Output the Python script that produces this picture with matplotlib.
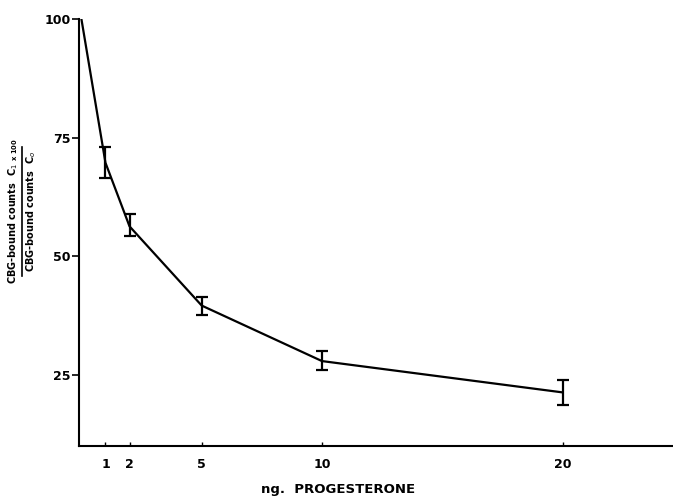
import matplotlib
matplotlib.use("Agg")
import matplotlib.pyplot as plt
from matplotlib.lines import Line2D

# Data
progesterone_ng = [0, 1, 2, 5, 10, 20]
bound_pct = [100, 69.7, 56.3, 39.6, 27.9, 21.3]
err_low = [0, 3.2, 2.1, 1.9, 1.9, 2.6]
err_high = [0, 3.3, 2.5, 1.8, 2.1, 2.6]
x_ticks = [1, 2, 5, 10, 20]
x_tick_labels = ["1", "2", "5", "10", "20"]
y_ticks = [25, 50, 75, 100]
y_tick_labels = ["25", "50", "75", "100"]

W, H = 673, 497
fig = plt.figure(figsize=(W / 100, H / 100), dpi=100)
ax = fig.add_axes([79 / W, 1 - 446 / H, (672 - 79) / W, (446 - 19) / H])

ax.plot(progesterone_ng, bound_pct, color="black", lw=1.6, solid_joinstyle="round")
ax.errorbar(progesterone_ng[1:], bound_pct[1:],
            yerr=[err_low[1:], err_high[1:]], fmt="none",
            ecolor="black", elinewidth=1.6, capsize=4, capthick=1.6)

ax.set_xlim(-0.1, 24.55)
ax.set_ylim(10, 100)
for s in ("top", "right"):
    ax.spines[s].set_visible(False)
for s in ("left", "bottom"):
    ax.spines[s].set_linewidth(1.5)

ax.set_xticks(x_ticks)
ax.set_xticklabels(x_tick_labels, fontsize=9, fontweight="bold")
ax.tick_params(axis="x", direction="in", length=3, width=1, pad=9)
ax.set_yticks(y_ticks)
ax.set_yticklabels(y_tick_labels, fontsize=9, fontweight="bold")
ax.tick_params(axis="y", direction="out", length=5, width=1.2, pad=1)

fig.text(338 / W, 1 - 490 / H, "ng.  PROGESTERONE", ha="center", va="center",
         fontsize=9.5, fontweight="bold")

# y label as a fraction
ycen = 1 - 211 / H
fig.text(13 / W, ycen, r"CBG-bound counts  C$_1$ $_{\mathbf{x\ 100}}$", rotation=90,
         ha="center", va="center", fontsize=7, fontweight="bold")
fig.text(31 / W, ycen, r"CBG-bound counts  C$_o$", rotation=90,
         ha="center", va="center", fontsize=7, fontweight="bold")
fig.add_artist(Line2D([22 / W, 22 / W], [1 - 276 / H, 1 - 147 / H],
                      transform=fig.transFigure, color="black", lw=1.2))

fig.savefig("out.png", dpi=100)
